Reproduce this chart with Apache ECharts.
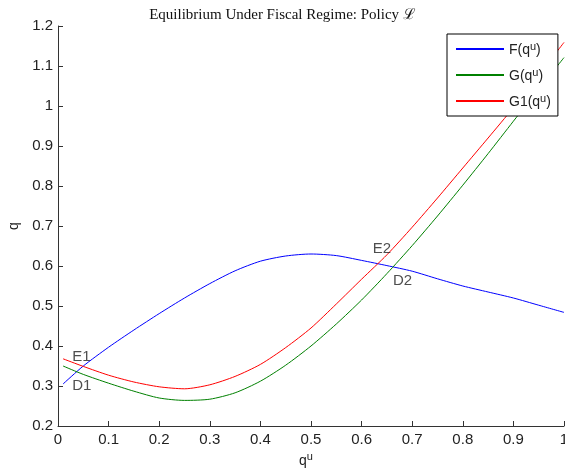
<!DOCTYPE html>
<html>
<head>
<meta charset="utf-8">
<script src="https://cdn.jsdelivr.net/npm/echarts@6/dist/echarts.min.js"></script>
<style>
  html, body { margin: 0; padding: 0; background: #fff; }
  #chart { width: 565px; height: 476px; }
</style>
</head>
<body>
<div id="chart"></div>
<script>
// q^u grid the three curves are sampled on
const qu = [0.01, 0.05, 0.1, 0.15, 0.2, 0.25, 0.3, 0.35, 0.4, 0.45, 0.5,
  0.55, 0.6, 0.65, 0.7, 0.75, 0.8, 0.85, 0.9, 0.95, 1.0];

const fVals = [0.305, 0.350, 0.397, 0.440, 0.481, 0.520, 0.556, 0.588, 0.612, 0.625, 0.630,
  0.626, 0.614, 0.601, 0.587, 0.568, 0.550, 0.535, 0.520, 0.502, 0.484];
const gVals = [0.350, 0.329, 0.307, 0.287, 0.270, 0.264, 0.267, 0.283, 0.312, 0.352, 0.400,
  0.455, 0.515, 0.581, 0.651, 0.725, 0.802, 0.881, 0.962, 1.042, 1.121];
const g1Vals = [0.368, 0.349, 0.327, 0.310, 0.298, 0.293, 0.303, 0.324, 0.354, 0.396, 0.445,
  0.505, 0.567, 0.628, 0.697, 0.770, 0.845, 0.920, 0.996, 1.077, 1.159];

const seriesNames = ["F(q^u)", "G(q^u)", "G1(q^u)"];
const seriesColors = ["#0000ff", "#008000", "#ff0000"];

// point labels (placed to the right of the given data point)
const annoText = ["E1", "D1", "E2", "D2"];
const annoX = [0.028, 0.028, 0.622, 0.662];
const annoY = [0.374, 0.301, 0.644, 0.563];

const xTicks = { min: 0, max: 1, interval: 0.1 };
const yTicks = { min: 0.2, max: 1.2, interval: 0.1 };

const font = "'Liberation Sans', Arial, sans-serif";

function pairs(vals) {
  return qu.map((x, i) => [x, vals[i]]);
}

function supLabel(name) {
  // "F(q^u)" -> rich text with superscript u
  const parts = name.split("^");
  const base = parts[0];
  const rest = parts[1];
  return "{b|" + base + "}{s|" + rest.slice(0, 1) + "}{b|" + rest.slice(1) + "}";
}

const rich = {
  b: { fontFamily: font, fontSize: 14, color: "#222", verticalAlign: "bottom", lineHeight: 16 },
  s: { fontFamily: font, fontSize: 11, color: "#222", verticalAlign: "top", padding: [0, 0, 5, 0], lineHeight: 16 },
};

const chart = echarts.init(document.getElementById("chart"));

const valueSeries = [fVals, gVals, g1Vals].map((vals, i) => ({
  name: seriesNames[i],
  type: "line",
  data: pairs(vals),
  symbol: "none",
  smooth: 0.25,
  lineStyle: { color: seriesColors[i], width: 1 },
  itemStyle: { color: seriesColors[i] },
  z: 2,
}));

chart.setOption({
  animation: false,
  backgroundColor: "#fff",
  title: {
    text: "Equilibrium Under Fiscal Regime: Policy \u2112",
    left: "center",
    top: 3,
    textStyle: {
      fontFamily: "'Liberation Serif', 'DejaVu Serif', serif",
      fontSize: 15,
      fontWeight: "normal",
      color: "#111",
    },
  },
  grid: { left: 58, right: 1, top: 26, bottom: 50, outerBoundsMode: "none" },
  legend: {
    data: seriesNames,
    orient: "vertical",
    left: 447,
    top: 34,
    itemWidth: 48,
    itemHeight: 14,
    itemGap: 10,
    padding: [7, 7, 7, 8],
    backgroundColor: "#fff",
    borderColor: "#000",
    borderWidth: 1,
    borderRadius: 0,
    itemStyle: { opacity: 0 },
    formatter: (name) => supLabel(name),
    textStyle: { rich: rich },
  },
  xAxis: {
    type: "value",
    min: xTicks.min,
    max: xTicks.max,
    interval: xTicks.interval,
    name: "{b|q}{s|u}",
    nameLocation: "middle",
    nameGap: 24,
    nameTextStyle: { rich: rich, padding: [0, 10, 0, 0] },
    axisLine: { lineStyle: { color: "#333" } },
    axisTick: { inside: true, length: 5, lineStyle: { color: "#333" } },
    axisLabel: { fontFamily: font, fontSize: 15, color: "#222", margin: 6 },
    splitLine: { show: false },
  },
  yAxis: {
    type: "value",
    min: yTicks.min,
    max: yTicks.max,
    interval: yTicks.interval,
    name: "q",
    nameLocation: "middle",
    nameGap: 37,
    nameTextStyle: { fontFamily: font, fontSize: 14, color: "#222" },
    axisLine: { show: true, lineStyle: { color: "#333" } },
    axisTick: { show: true, inside: true, length: 5, lineStyle: { color: "#333" } },
    axisLabel: { fontFamily: font, fontSize: 15, color: "#222", margin: 5 },
    splitLine: { show: false },
  },
  series: [
    ...valueSeries,
    {
      name: "points",
      type: "scatter",
      silent: true,
      symbolSize: 0,
      data: annoText.map((t, i) => [annoX[i], annoY[i], t]),
      label: {
        show: true,
        position: "right",
        distance: 0,
        formatter: (p) => p.data[2],
        fontFamily: font,
        fontSize: 15,
        color: "#222",
      },
      z: 3,
    },
  ],
});
</script>
</body>
</html>
